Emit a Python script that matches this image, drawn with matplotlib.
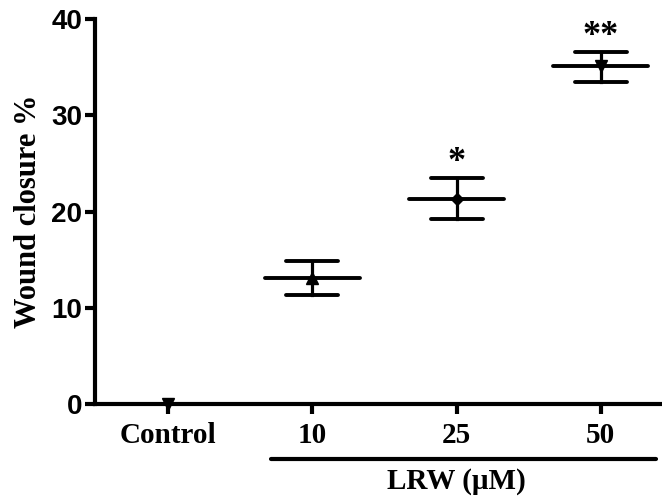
import matplotlib
matplotlib.use("Agg")
import matplotlib.pyplot as plt
from matplotlib.transforms import blended_transform_factory

categories = ["Control", "10", "25", "50"]
means = [0.0, 13.1, 21.3, 35.1]
err_low = [0.0, 11.3, 19.2, 33.5]
err_high = [0.0, 14.9, 23.5, 36.6]
markers = ["v", "^", "D", "v"]
sig_labels = ["", "", "*", "**"]
yticks = [0, 10, 20, 30, 40]

fig = plt.figure(figsize=(6.62, 4.96), dpi=100)
ax = fig.add_axes([95/662, 1-404/496, (660-95)/662, (404-19)/496])

xs = list(range(len(categories)))
for x, m, lo, hi, mk in zip(xs, means, err_low, err_high, markers):
    if x > 0:
        ax.plot([x-0.33, x+0.33], [m, m], color="black", lw=2.8, solid_capstyle="round", clip_on=False)
        ax.plot([x, x], [lo, hi], color="black", lw=2.3, clip_on=False)
        ax.plot([x-0.18, x+0.18], [hi, hi], color="black", lw=2.8, solid_capstyle="round", clip_on=False)
        ax.plot([x-0.18, x+0.18], [lo, lo], color="black", lw=2.8, solid_capstyle="round", clip_on=False)
    ms = 6 if mk == "D" else 9
    ax.plot([x], [m], marker=mk, color="black", ms=ms, clip_on=False, zorder=5)

for x, hi, s in zip(xs, err_high, sig_labels):
    if s:
        ax.text(x, hi + 1.6, s, ha="center", va="center", fontsize=26,
                fontfamily="Liberation Serif", fontweight="bold")

ax.set_xlim(-0.507, 3.41)
ax.set_ylim(0, 40)
ax.set_yticks(yticks)
ax.set_yticklabels([str(t) for t in yticks], fontfamily="Liberation Sans", fontweight="bold", fontsize=20)
ax.set_xticks(xs)
ax.set_xticklabels(categories, fontfamily="Liberation Serif", fontweight="bold", fontsize=21)
ax.tick_params(axis="both", width=3.0, length=7, direction="out")
ax.tick_params(axis="x", pad=6)
ax.tick_params(axis="y", pad=2)
for side in ["top", "right"]:
    ax.spines[side].set_visible(False)
for side in ["left", "bottom"]:
    ax.spines[side].set_linewidth(3.0)

ax.set_ylabel("Wound closure %", fontfamily="Liberation Serif", fontweight="bold", fontsize=22, labelpad=6)

trans = blended_transform_factory(ax.transData, ax.transAxes)
ax.plot([0.71, 3.38], [-0.142, -0.142], transform=trans, color="black", lw=3.0,
        solid_capstyle="round", clip_on=False)
ax.text(2.0, -0.202, "LRW (\u03bcM)", transform=trans, ha="center", va="center",
        fontfamily="Liberation Serif", fontweight="bold", fontsize=21)

fig.savefig("out.png", dpi=100)
